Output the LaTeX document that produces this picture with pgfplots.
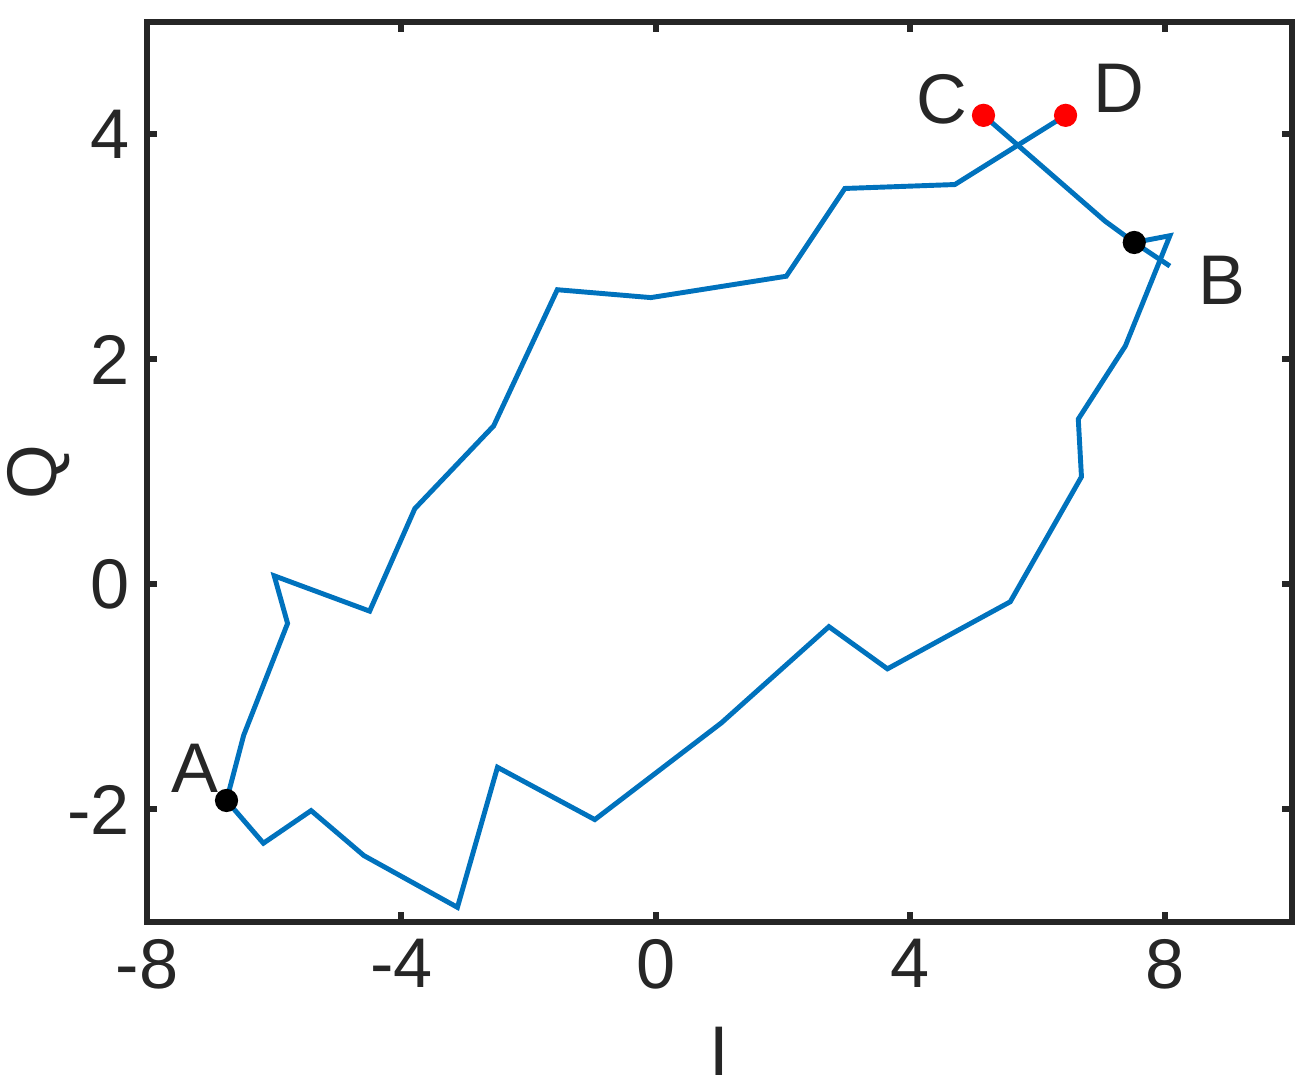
\documentclass[border=0pt]{standalone}
\usepackage{pgfplots}
\pgfplotsset{compat=1.18}
\usepackage{fontspec}
\setmainfont{Liberation Sans}

\definecolor{mblue}{RGB}{0,114,189}
\definecolor{mgray}{RGB}{38,38,38}

\begin{document}
\begin{tikzpicture}
\begin{axis}[
    scale only axis,
    width=11.45cm, height=9cm,
    xmin=-8, xmax=10, ymin=-3, ymax=5,
    xtick={-8,-4,0,4,8}, ytick={-2,0,2,4},
    tick align=inside, major tick length=0.1cm,
    axis line style={mgray, line width=1.7pt},
    every tick/.style={mgray, line width=1.7pt},
    tick label style={font=\fontsize{20}{24}\selectfont, text=mgray},
    xticklabel style={yshift=-0.05cm},
    yticklabel style={xshift=-0.05cm},
    label style={font=\fontsize{20}{24}\selectfont, text=mgray, inner sep=0pt},
    /pgf/number format/assume math mode=true,
    xlabel={I}, ylabel={Q},
    xlabel style={at={(axis description cs:0.5,-0.1433)}, anchor=center},
    ylabel style={at={(axis description cs:-0.0943,0.5)}, anchor=center},
    clip=false,
]

% trajectory from B round the loop to D
\addplot[mblue, line width=1.4pt] coordinates {
    (7.52,3.04) (8.08,3.10) (7.38,2.12) (6.64,1.47) (6.69,0.957)
    (5.57,-0.154) (3.64,-0.75) (2.72,-0.375) (1.03,-1.23) (-0.96,-2.09)
    (-2.49,-1.625) (-3.12,-2.87) (-4.59,-2.41) (-5.42,-2.01) (-6.17,-2.30)
    (-6.75,-1.92) (-6.48,-1.34) (-5.79,-0.346) (-6.0,0.077) (-4.50,-0.237)
    (-3.79,0.674) (-2.55,1.41) (-1.55,2.62) (-0.08,2.55) (2.05,2.74)
    (2.97,3.52) (4.70,3.555) (6.44,4.17)
};
% segment from C through B
\addplot[mblue, line width=1.4pt] coordinates {
    (5.15,4.17) (7.06,3.23) (7.52,3.04) (8.08,2.83)
};

% marked points
\addplot[only marks, mark=*, mark size=3.1pt, black] coordinates {(-6.75,-1.92) (7.52,3.04)};
\addplot[only marks, mark=*, mark size=3.1pt, red] coordinates {(5.15,4.17) (6.44,4.17)};

\node[font=\fontsize{20}{24}\selectfont, text=mgray] at (axis cs:-7.24,-1.63) {A};
\node[font=\fontsize{20}{24}\selectfont, text=mgray] at (axis cs:8.90,2.70) {B};
\node[font=\fontsize{20}{24}\selectfont, text=mgray] at (axis cs:4.49,4.31) {C};
\node[font=\fontsize{20}{24}\selectfont, text=mgray] at (axis cs:7.28,4.41) {D};
\end{axis}
\pgfresetboundingbox
\path[use as bounding box] ([xshift=-1.47cm,yshift=-1.67cm]current axis.south west) rectangle ([xshift=0.23cm,yshift=0.22cm]current axis.north east);
\end{tikzpicture}
\end{document}
